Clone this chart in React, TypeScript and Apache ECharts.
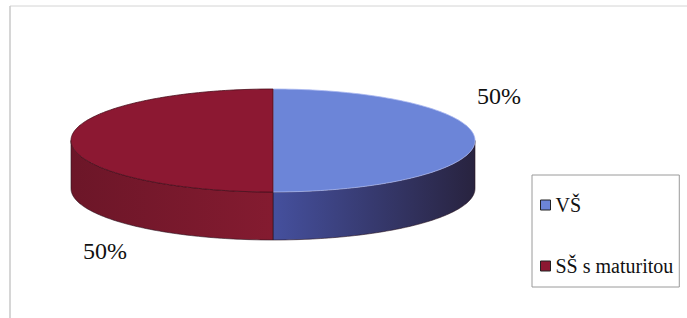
import React, { useEffect, useRef } from "react";
import * as echarts from "echarts";

const categories = ["VŠ", "SŠ s maturitou"];
const values = [50, 50];
const topColors = ["#6C85D8", "#8C1832"];
const sideColorsA = ["#45509E", "#841B30"];
const sideColorsB = ["#28233F", "#6C1628"];
const edgeColors = ["#A9B8F0", "#4A0D1A"];
const labelAnchors = [
  [499, 96],
  [105, 251],
];

const FONT = "'Liberation Serif', 'Liberation Sans', sans-serif";

const CX = 273;
const CY = 140.5;
const RX = 202;
const RY = 51.5;
const DEPTH = 48;

function arcPts(a0: number, a1: number, dy: number) {
  const pts: number[][] = [];
  const n = Math.max(2, Math.ceil(Math.abs(a1 - a0) / 0.02));
  for (let i = 0; i <= n; i++) {
    const a = a0 + ((a1 - a0) * i) / n;
    pts.push([CX + RX * Math.cos(a), CY + dy + RY * Math.sin(a)]);
  }
  return pts;
}

export default function App() {
  const ref = useRef<HTMLDivElement>(null);
  useEffect(() => {
    document.body.style.margin = "0";
    const chart = echarts.init(ref.current!, null, { renderer: "svg" });
    const total = values.reduce((s, v) => s + v, 0);

    const series = categories.map((name, idx) => {
      const cum = values.slice(0, idx).reduce((s, v) => s + v, 0);
      const start = -Math.PI / 2 + (2 * Math.PI * cum) / total;
      const end = start + (2 * Math.PI * values[idx]) / total;
      return {
        type: "custom",
        name,
        coordinateSystem: "none",
        itemStyle: { color: topColors[idx] },
        data: [values[idx]],
        renderItem: () => {
          const children: any[] = [];
          for (let k = -1; k <= 1; k++) {
            const s = Math.max(start, 2 * k * Math.PI);
            const e = Math.min(end, 2 * k * Math.PI + Math.PI);
            if (e > s) {
              const top = arcPts(s, e, 0);
              const bot = arcPts(e, s, DEPTH);
              const xs = top.map((p) => p[0]);
              const minX = Math.min(...xs);
              const maxX = Math.max(...xs);
              const grad = new echarts.graphic.LinearGradient(
                idx === 0 ? minX : maxX,
                0,
                idx === 0 ? maxX : minX,
                0,
                [
                  { offset: 0, color: sideColorsA[idx] },
                  { offset: 1, color: sideColorsB[idx] },
                ],
                true
              );
              children.push({
                type: "polygon",
                shape: { points: top.concat(bot) },
                style: { fill: grad, stroke: "#2a1420", lineWidth: 0.6 },
              });
            }
          }
          const topPts = [[CX, CY]].concat(arcPts(start, end, 0));
          children.push({
            type: "polygon",
            shape: { points: topPts },
            style: { fill: topColors[idx], stroke: edgeColors[idx], lineWidth: 0.8 },
          });
          children.push({
            type: "text",
            x: labelAnchors[idx][0],
            y: labelAnchors[idx][1],
            style: {
              text: Math.round((values[idx] / total) * 100) + "%",
              fontFamily: FONT,
              fontSize: 24,
              fill: "#111",
              align: "center",
              verticalAlign: "middle",
            },
          });
          return { type: "group", children };
        },
      };
    });

    chart.setOption({
      animation: false,
      backgroundColor: "#ffffff",
      legend: {
        orient: "vertical",
        left: 532,
        top: 175,
        padding: [20, 6, 11, 8],
        itemGap: 41,
        itemWidth: 10,
        itemHeight: 10,
        icon: "rect",
        borderColor: "#9a9a9a",
        borderWidth: 1,
        backgroundColor: "#fff",
        data: categories.map((c, i) => ({
          name: c,
          itemStyle: { color: topColors[i], borderColor: "#222", borderWidth: 1 },
        })),
        textStyle: {
          fontFamily: FONT,
          fontSize: 20,
          lineHeight: 20,
          color: "#111",
        },
      },
      graphic: [
        {
          type: "line",
          shape: { x1: 10, y1: 6, x2: 687, y2: 6 },
          style: { stroke: "#d4d4d4", lineWidth: 1 },
        },
        {
          type: "line",
          shape: { x1: 10, y1: 6, x2: 10, y2: 318 },
          style: { stroke: "#c8c8c8", lineWidth: 1.5 },
        },
      ],
      series,
    });
    return () => chart.dispose();
  }, []);
  return <div ref={ref} style={{ width: 687, height: 318 }} />;
}
